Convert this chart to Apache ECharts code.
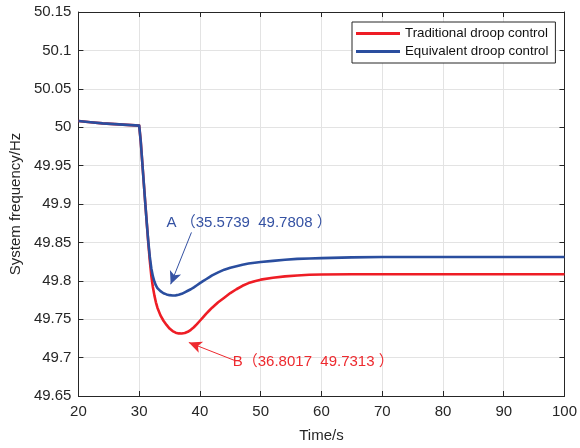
<!DOCTYPE html>
<html>
<head>
<meta charset="utf-8">
<script src="https://cdn.jsdelivr.net/npm/echarts@6/dist/echarts.min.js"></script>
<style>html,body{margin:0;padding:0;background:#fff}#c{width:580px;height:448px}</style>
</head>
<body>
<div id="c"></div>
<script>
const time = [20, 22, 24, 26, 28, 30, 30.25, 30.5, 30.75, 31, 31.25, 31.5, 31.75, 32, 32.25, 32.5, 32.75, 33, 33.5, 34, 34.5, 35, 35.5, 36, 36.5, 37, 37.5, 38, 38.5, 39, 39.5, 40, 40.5, 41, 41.5, 42, 43, 44, 45, 46, 47, 48, 49, 50, 52, 54, 56, 58, 60, 65, 70, 80, 90, 100];
const traditional = [50.008, 50.0065, 50.005, 50.004, 50.003, 50.002, 49.982, 49.955, 49.928, 49.901, 49.875, 49.849, 49.826, 49.806, 49.792, 49.781, 49.772, 49.765, 49.755, 49.748, 49.7425, 49.7378, 49.7345, 49.7325, 49.7315, 49.7314, 49.732, 49.7336, 49.7362, 49.7395, 49.7435, 49.748, 49.7525, 49.757, 49.761, 49.765, 49.772, 49.778, 49.784, 49.789, 49.7935, 49.797, 49.7995, 49.8015, 49.804, 49.8058, 49.807, 49.8078, 49.8082, 49.8085, 49.8085, 49.8085, 49.8085, 49.8085];
const equivalent = [50.008, 50.0065, 50.005, 50.004, 50.003, 50.002, 49.982, 49.955, 49.928, 49.901, 49.875, 49.851, 49.831, 49.816, 49.806, 49.799, 49.794, 49.7905, 49.7865, 49.7838, 49.7823, 49.7813, 49.7808, 49.781, 49.7818, 49.783, 49.785, 49.787, 49.789, 49.7915, 49.7942, 49.797, 49.7995, 49.802, 49.8045, 49.807, 49.811, 49.8145, 49.817, 49.819, 49.821, 49.8225, 49.8235, 49.8245, 49.826, 49.8275, 49.8285, 49.829, 49.8295, 49.8305, 49.831, 49.831, 49.831, 49.831];
const seriesNames = ['Traditional droop control', 'Equivalent droop control'];
const xTicks = {min: 20, max: 100, interval: 10};
const yTicks = {min: 49.65, max: 50.15, interval: 0.05};
const pointA = {label: 'A （35.5739  49.7808 ）', text: [34.5, 49.876], from: [38.6, 49.863], to: [35.18, 49.7955]};
const pointB = {label: 'B（36.8017  49.7313 ）', text: [45.4, 49.694], from: [45.8, 49.696], to: [38.17, 49.7197]};

const RED = '#ee1d25', BLUE = '#2a4e9f';
const FONT = "'Liberation Sans', Arial, 'Noto Sans CJK SC', sans-serif";
const chart = echarts.init(document.getElementById('c'), null, {renderer: 'canvas'});
const axisCommon = {
  axisLine: {show: true, onZero: false, lineStyle: {color: '#262626', width: 1}},
  axisTick: {show: true, inside: true, length: 5, lineStyle: {color: '#262626'}}
};
const toData = (a) => time.map((t, i) => [t, a[i]]);
function annot(p, color) {
  return {
    markLine: {
      silent: true, animation: false,
      symbolSize: [9, 13],
      label: {show: false},
      lineStyle: {color: color, width: 1, type: 'solid'},
      data: [[{coord: p.from, symbol: 'none'}, {coord: p.to, symbol: 'arrow'}]]
    },
    markPoint: {
      silent: true, animation: false,
      symbol: 'circle', symbolSize: 0,
      data: [{coord: p.text, label: {show: true, position: 'right', distance: 0, formatter: p.label,
        color: color, fontSize: 15, fontFamily: FONT}}]
    }
  };
}
chart.setOption({
  animation: false,
  backgroundColor: '#fff',
  grid: {left: 77, right: 13, top: 12, bottom: 51},
  legend: {
    orient: 'vertical', left: 352, top: 22,
    padding: [4, 7, 4, 4], itemGap: 3,
    borderColor: '#262626', borderWidth: 1, backgroundColor: '#fff',
    itemWidth: 44, itemHeight: 3, icon: 'rect',
    textStyle: {fontSize: 13.3, color: '#111', fontFamily: FONT, lineHeight: 15},
    data: seriesNames
  },
  xAxis: [
    Object.assign({type: 'value', position: 'bottom', min: xTicks.min, max: xTicks.max, interval: xTicks.interval,
      name: 'Time/s', nameLocation: 'middle', nameGap: 32,
      nameTextStyle: {fontSize: 15, color: '#262626', fontFamily: FONT},
      axisLabel: {fontSize: 15, color: '#262626', fontFamily: FONT, margin: 8},
      splitLine: {show: true, lineStyle: {color: '#e3e3e3'}}}, axisCommon),
    Object.assign({type: 'value', position: 'top', min: xTicks.min, max: xTicks.max, interval: xTicks.interval,
      axisLabel: {show: false}, splitLine: {show: false}}, axisCommon)
  ],
  yAxis: [
    Object.assign({type: 'value', position: 'left', min: yTicks.min, max: yTicks.max, interval: yTicks.interval,
      name: 'System frequency/Hz', nameLocation: 'middle', nameGap: 49,
      nameTextStyle: {fontSize: 15, color: '#262626', fontFamily: FONT},
      axisLabel: {fontSize: 15, color: '#262626', fontFamily: FONT, margin: 7,
        formatter: v => String(+(+v).toFixed(2))},
      splitLine: {show: true, lineStyle: {color: '#e3e3e3'}}}, axisCommon),
    Object.assign({type: 'value', position: 'right', min: yTicks.min, max: yTicks.max, interval: yTicks.interval,
      axisLabel: {show: false}, splitLine: {show: false}}, axisCommon)
  ],
  series: [
    Object.assign({
      name: seriesNames[0], type: 'line', data: toData(traditional), showSymbol: false, symbol: 'none',
      smooth: false, z: 3,
      itemStyle: {color: RED}, lineStyle: {color: RED, width: 2.6, join: 'round'}
    }, annot(pointB, '#ee2a2f')),
    Object.assign({
      name: seriesNames[1], type: 'line', data: toData(equivalent), showSymbol: false, symbol: 'none',
      smooth: false, z: 4,
      itemStyle: {color: BLUE}, lineStyle: {color: BLUE, width: 2.6, join: 'round'}
    }, annot(pointA, '#3552a3'))
  ]
});
</script>
</body>
</html>
